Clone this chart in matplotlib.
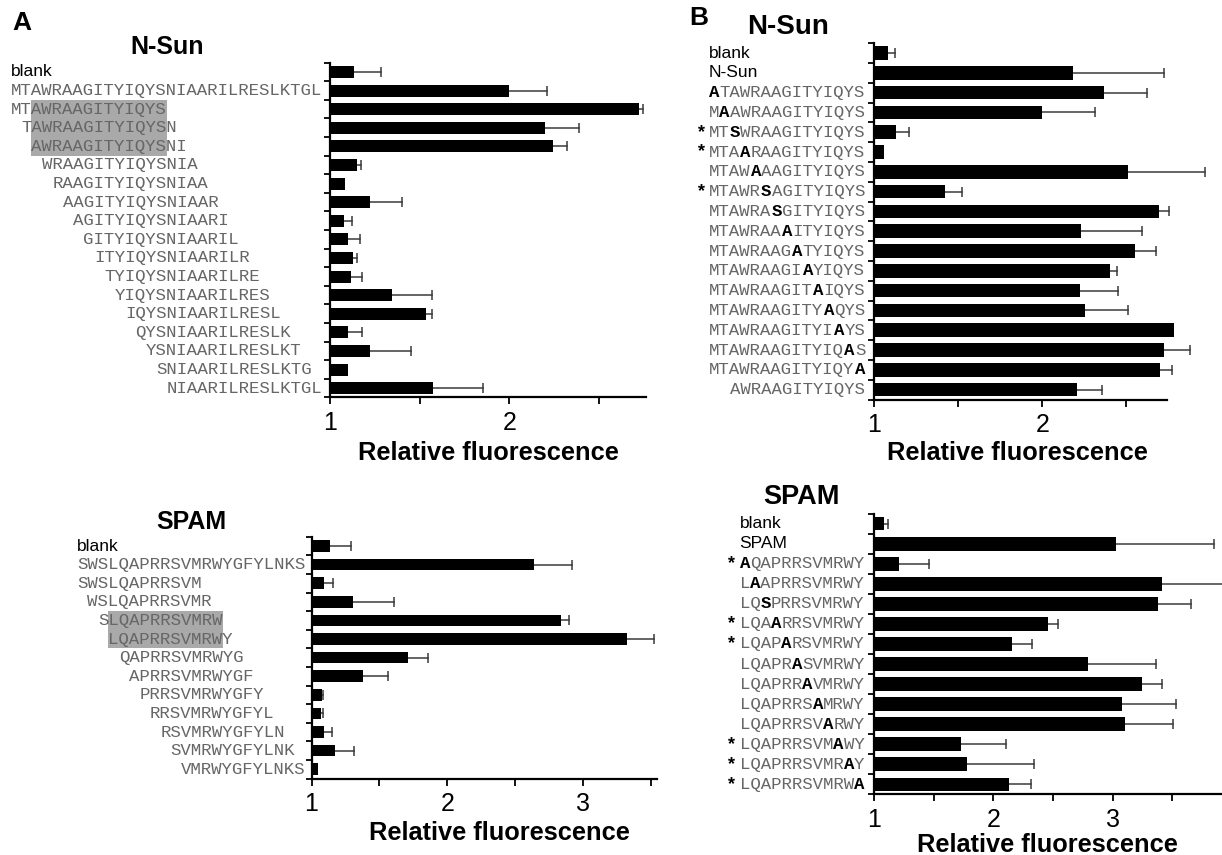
import matplotlib
matplotlib.use("Agg")
import matplotlib.pyplot as plt
from matplotlib.transforms import blended_transform_factory
from matplotlib.patches import Rectangle
from matplotlib.ticker import FixedLocator, FuncFormatter

# ---------------- data ----------------
nsun_a_full = "MTAWRAAGITYIQYSNIAARILRESLKTGL"
nsun_a_labels = ["blank", "MTAWRAAGITYIQYSNIAARILRESLKTGL", "MTAWRAAGITYIQYS",
                 "TAWRAAGITYIQYSN", "AWRAAGITYIQYSNI", "WRAAGITYIQYSNIA",
                 "RAAGITYIQYSNIAA", "AAGITYIQYSNIAAR", "AGITYIQYSNIAARI",
                 "GITYIQYSNIAARIL", "ITYIQYSNIAARILR", "TYIQYSNIAARILRE",
                 "YIQYSNIAARILRES", "IQYSNIAARILRESL", "QYSNIAARILRESLK",
                 "YSNIAARILRESLKT", "SNIAARILRESLKTG", "NIAARILRESLKTGL"]
nsun_a_values = [1.136, 2.00, 2.721, 2.20, 2.242, 1.153, 1.085, 1.225, 1.077,
                 1.103, 1.131, 1.115, 1.345, 1.533, 1.103, 1.221, 1.103, 1.577]
nsun_a_errtop = [1.286, 2.211, 2.746, 2.387, 2.322, 1.174, 1.085, 1.404, 1.122,
                 1.169, 1.148, 1.178, 1.566, 1.570, 1.178, 1.451, 1.103, 1.854]
nsun_a_motif = "AWRAAGITYIQYS"
nsun_a_boxrows = [2, 3, 4]

spam_a_full = "SWSLQAPRRSVMRWYGFYLNKS"
spam_a_labels = ["blank", "SWSLQAPRRSVMRWYGFYLNKS", "SWSLQAPRRSVM", "WSLQAPRRSVMR",
                 "SLQAPRRSVMRW", "LQAPRRSVMRWY", "QAPRRSVMRWYG", "APRRSVMRWYGF",
                 "PRRSVMRWYGFY", "RRSVMRWYGFYL", "RSVMRWYGFYLN", "SVMRWYGFYLNK",
                 "VMRWYGFYLNKS"]
spam_a_values = [1.14, 2.637, 1.093, 1.304, 2.842, 3.326, 1.713, 1.378, 1.078,
                 1.068, 1.093, 1.171, 1.05]
spam_a_errtop = [1.288, 2.916, 1.155, 1.611, 2.898, 3.527, 1.862, 1.567, 1.087,
                 1.087, 1.149, 1.316, 1.05]
spam_a_motif = "LQAPRRSVMRW"
spam_a_boxrows = [4, 5]

nsun_b_wt = "MTAWRAAGITYIQYS"
nsun_b_labels = ["blank", "N-Sun", "ATAWRAAGITYIQYS", "MAAWRAAGITYIQYS",
                 "MTSWRAAGITYIQYS", "MTAARAAGITYIQYS", "MTAWAAAGITYIQYS",
                 "MTAWRSAGITYIQYS", "MTAWRASGITYIQYS", "MTAWRAAAITYIQYS",
                 "MTAWRAAGATYIQYS", "MTAWRAAGIAYIQYS", "MTAWRAAGITAIQYS",
                 "MTAWRAAGITYAQYS", "MTAWRAAGITYIAYS", "MTAWRAAGITYIQAS",
                 "MTAWRAAGITYIQYA", "AWRAAGITYIQYS"]
nsun_b_star = [False, False, False, False, True, True, False, True, False,
               False, False, False, False, False, False, False, False, False]
nsun_b_values = [1.084, 2.183, 2.366, 2.0, 1.130, 1.057, 2.512, 1.422, 2.693,
                 2.23, 2.552, 2.406, 2.223, 2.252, 2.784, 2.722, 2.70, 2.207]
nsun_b_errtop = [1.124, 2.726, 2.623, 2.313, 1.208, 1.057, 2.97, 1.525, 2.755,
                 2.596, 2.678, 2.446, 2.453, 2.512, 2.784, 2.876, 2.77, 2.358]

spam_b_wt = "LQAPRRSVMRWY"
spam_b_labels = ["blank", "SPAM", "AQAPRRSVMRWY", "LAAPRRSVMRWY", "LQSPRRSVMRWY",
                 "LQAARRSVMRWY", "LQAPARSVMRWY", "LQAPRASVMRWY", "LQAPRRAVMRWY",
                 "LQAPRRSAMRWY", "LQAPRRSVARWY", "LQAPRRSVMAWY", "LQAPRRSVMRAY",
                 "LQAPRRSVMRWA"]
spam_b_star = [False, False, True, False, False, True, True, False, False,
               False, False, True, True, True]
spam_b_values = [1.081, 3.025, 1.211, 3.409, 3.381, 2.457, 2.153, 2.789, 3.245,
                 3.078, 3.099, 1.726, 1.775, 2.129]
spam_b_errtop = [1.118, 3.847, 1.459, 3.93, 3.657, 2.541, 2.327, 3.366, 3.409,
                 3.527, 3.502, 2.107, 2.343, 2.318]

# ---------------- style ----------------
W, H = 1222, 855
fig = plt.figure(figsize=(W / 100, H / 100), dpi=100)
SANS = "Liberation Sans"
MONO = "Liberation Mono"
MONO_SIZE = 12.5
CW = 0.6 * MONO_SIZE * 100 / 72.0      # monospace advance in pixels
SEQ_COLOR = "#666666"
BOX_COLOR = "#a9a9a9"
ERR_COLOR = "#3a3a3a"


def fx(px):
    return px / W


def fy(py):
    return 1 - py / H


def make_axes(L, R, T, B, xmax, n, ticks):
    ax = fig.add_axes([fx(L), fy(B), fx(R - L), (B - T) / H])
    ax.set_xlim(1, xmax)
    ax.set_ylim(n - 0.5, -0.5)
    for s in ("top", "right"):
        ax.spines[s].set_visible(False)
    for s in ("left", "bottom"):
        ax.spines[s].set_linewidth(1.6)
        ax.spines[s].set_color("black")
    ax.xaxis.set_major_locator(FixedLocator(ticks))
    ax.xaxis.set_major_formatter(
        FuncFormatter(lambda v, p: ("%d" % round(v)) if abs(v - round(v)) < 1e-6 else ""))
    ax.yaxis.set_major_locator(FixedLocator([i - 0.5 for i in range(n + 1)]))
    ax.set_yticklabels([])
    ax.tick_params(axis="x", direction="out", length=5, width=1.3, pad=5,
                   labelsize=18)
    ax.tick_params(axis="y", direction="out", length=4, width=1.3)
    for lab in ax.get_xticklabels():
        lab.set_fontfamily(SANS)
    return ax


def draw_bars(ax, values, errtop, height):
    ys = list(range(len(values)))
    widths = [v - 1 for v in values]
    ax.barh(ys, widths, left=1, height=height, color="black", clip_on=False,
            zorder=3)
    for y, v, e in zip(ys, values, errtop):
        if e - v > 0.004:
            ax.plot([v, e], [y, y], color=ERR_COLOR, lw=1.1, clip_on=False,
                    zorder=2)
            ax.plot([e], [y], marker="|", ms=7, mew=1.1, color=ERR_COLOR,
                    clip_on=False, zorder=2)


def label_a(ax, labels, full, start_px, motif, boxrows):
    tr = blended_transform_factory(fig.transFigure, ax.transData)
    m0 = full.find(motif)
    bx0 = start_px + m0 * CW
    bx1 = start_px + (m0 + len(motif)) * CW
    r0, r1 = min(boxrows), max(boxrows)
    fig.patches.append(Rectangle((fx(bx0), r0 - 0.5), fx(bx1 - bx0), r1 - r0 + 1,
                                 transform=tr, facecolor=BOX_COLOR,
                                 edgecolor="none", zorder=0))
    for i, lab in enumerate(labels):
        if lab == "blank":
            fig.text(fx(start_px), i, lab, transform=tr, ha="left", va="center",
                     fontsize=12.5, family=SANS, color="black", zorder=2)
        else:
            off = full.find(lab)
            fig.text(fx(start_px + off * CW), i, lab, transform=tr, ha="left",
                     va="center", fontsize=MONO_SIZE, family=MONO,
                     color=SEQ_COLOR, zorder=2)


def label_b(ax, labels, wt, stars, end_px, star_px):
    tr = blended_transform_factory(fig.transFigure, ax.transData)
    nwt = len(wt)
    for i, lab in enumerate(labels):
        if stars[i]:
            fig.text(fx(star_px), i, "*", transform=tr, ha="center", va="center",
                     fontsize=13, family=SANS, weight="bold", color="black")
        if lab in ("blank", "N-Sun", "SPAM"):
            fig.text(fx(end_px - nwt * CW), i, lab, transform=tr, ha="left",
                     va="center", fontsize=12.5, family=SANS, color="black")
            continue
        start = end_px - len(lab) * CW
        mut = None
        if len(lab) == nwt:
            diffs = [k for k in range(nwt) if lab[k] != wt[k]]
            if len(diffs) == 1:
                mut = diffs[0]
        if mut is None:
            fig.text(fx(start), i, lab, transform=tr, ha="left", va="center",
                     fontsize=MONO_SIZE, family=MONO, color=SEQ_COLOR)
            continue
        pre, ch, post = lab[:mut], lab[mut], lab[mut + 1:]
        if pre:
            fig.text(fx(start), i, pre, transform=tr, ha="left", va="center",
                     fontsize=MONO_SIZE, family=MONO, color=SEQ_COLOR)
        fig.text(fx(start + mut * CW), i, ch, transform=tr, ha="left",
                 va="center", fontsize=MONO_SIZE, family=MONO, weight="bold",
                 color="black")
        if post:
            fig.text(fx(start + (mut + 1) * CW), i, post, transform=tr,
                     ha="left", va="center", fontsize=MONO_SIZE, family=MONO,
                     color=SEQ_COLOR)


def xlabel(cx, cy):
    fig.text(fx(cx), fy(cy), "Relative fluorescence", ha="center", va="center",
             fontsize=18.3, family=SANS, weight="bold")


def title(cx, cy, s, size):
    fig.text(fx(cx), fy(cy), s, ha="center", va="center", fontsize=size,
             family=SANS, weight="bold")


# ---------------- panel A, N-Sun ----------------
ax1 = make_axes(330, 646, 62.7, 397.5, 2.762, len(nsun_a_labels),
                [1, 1.5, 2, 2.5])
draw_bars(ax1, nsun_a_values, nsun_a_errtop, 0.64)
label_a(ax1, nsun_a_labels, nsun_a_full, 10.5, nsun_a_motif, nsun_a_boxrows)
xlabel(488, 453)
title(167, 47, "N-Sun", 18)
title(22, 23, "A", 19)

# ---------------- panel A, SPAM ----------------
ax2 = make_axes(311.5, 657, 536.7, 778.5, 3.546, len(spam_a_labels),
                [1, 1.5, 2, 2.5, 3, 3.5])
draw_bars(ax2, spam_a_values, spam_a_errtop, 0.62)
label_a(ax2, spam_a_labels, spam_a_full, 77, spam_a_motif, spam_a_boxrows)
xlabel(499, 833)
title(191, 522, "SPAM", 18)

# ---------------- panel B, N-Sun ----------------
ax3 = make_axes(874, 1167, 43.1, 399.5, 2.742, len(nsun_b_labels),
                [1, 1.5, 2, 2.5])
draw_bars(ax3, nsun_b_values, nsun_b_errtop, 0.68)
label_b(ax3, nsun_b_labels, nsun_b_wt, nsun_b_star, 865.3, 701)
xlabel(1017, 453)
title(788, 27, "N-Sun", 20)
title(699, 18, "B", 19)

# ---------------- panel B, SPAM ----------------
ax4 = make_axes(874, 1221, 513.6, 794.4, 3.907, len(spam_b_labels),
                [1, 1.5, 2, 2.5, 3, 3.5])
draw_bars(ax4, spam_b_values, spam_b_errtop, 0.68)
label_b(ax4, spam_b_labels, spam_b_wt, spam_b_star, 864.6, 731)
xlabel(1047, 845)
title(801, 497, "SPAM", 19.5)

fig.savefig("out.png", dpi=100)
